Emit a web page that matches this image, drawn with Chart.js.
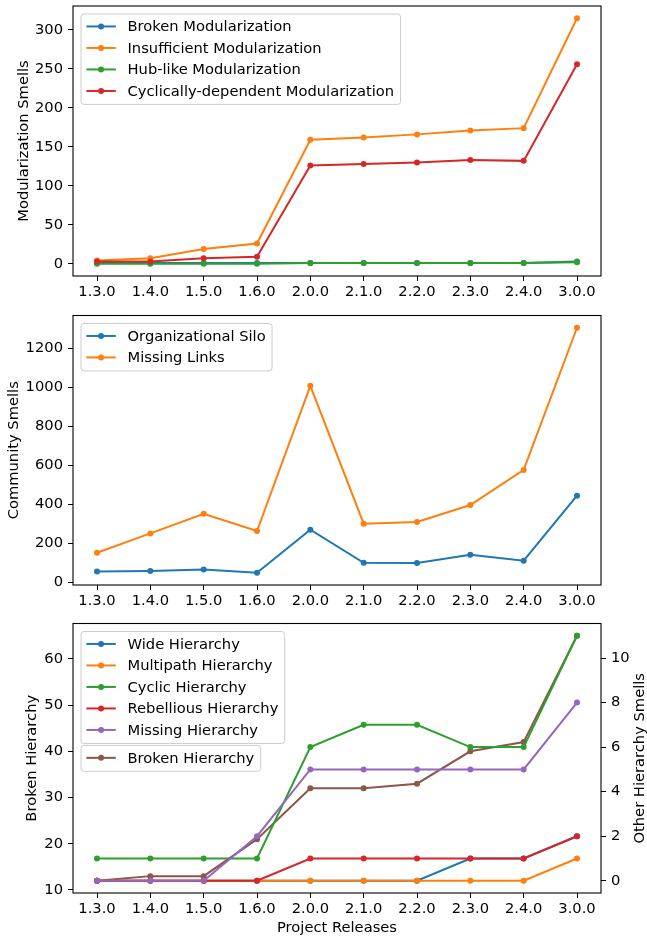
<!DOCTYPE html>
<html>
<head>
<meta charset="utf-8">
<script src="https://cdn.jsdelivr.net/npm/chart.js@4/dist/chart.umd.min.js"></script>
<style>
    html, body { margin: 0; padding: 0; background: #fff; }
    body { width: 647px; height: 938px; position: relative; overflow: hidden; }
    canvas { position: absolute; left: 0; }
</style>
</head>
<body>
<canvas id="modChart" width="647" height="305" style="top:0px"></canvas>
<canvas id="commChart" width="647" height="310" style="top:305px"></canvas>
<canvas id="hierChart" width="647" height="323" style="top:615px"></canvas>
<script>
// Data
const releases = ["1.3.0", "1.4.0", "1.5.0", "1.6.0", "2.0.0", "2.1.0", "2.2.0", "2.3.0", "2.4.0", "3.0.0"];

const brokenModularization       = [1, 1, 1, 1, 1, 1, 1, 1, 1, 3];
const insufficientModularization = [4, 7, 19, 26, 159, 162, 166, 171, 174, 315];
const hubLikeModularization      = [0, 0, 0, 0, 1, 1, 1, 1, 1, 2];
const cyclicModularization       = [3, 3, 7, 9, 126, 128, 130, 133, 132, 256];

const organizationalSilo = [55, 57, 65, 48, 269, 99, 98, 141, 110, 444];
const missingLinks       = [151, 250, 351, 262, 1008, 300, 309, 396, 576, 1306];

const brokenHierarchy     = [12, 13, 13, 21, 32, 32, 33, 40, 42, 65];
const wideHierarchy       = [0, 0, 0, 0, 0, 0, 0, 1, 1, 2];
const multipathHierarchy  = [0, 0, 0, 0, 0, 0, 0, 0, 0, 1];
const cyclicHierarchy     = [1, 1, 1, 1, 6, 7, 7, 6, 6, 11];
const rebelliousHierarchy = [0, 0, 0, 0, 1, 1, 1, 1, 1, 2];
const missingHierarchy    = [0, 0, 0, 2, 5, 5, 5, 5, 5, 8];

const modTicks    = [0, 50, 100, 150, 200, 250, 300];
const commTicks   = [0, 200, 400, 600, 800, 1000, 1200];
const brokenTicks = [10, 20, 30, 40, 50, 60];
const otherTicks  = [0, 2, 4, 6, 8, 10];

const C = {
    blue: "#1f77b4", orange: "#ff7f0e", green: "#2ca02c",
    red: "#d62728", purple: "#9467bd", brown: "#8c564b"
};

const FONT_PX = 14.7;
const FAMILY = '"DejaVu Sans", sans-serif';

Chart.defaults.color = "#000";
Chart.defaults.font.family = FAMILY;
Chart.defaults.font.size = FONT_PX;

// matplotlib-like auto limits: 5% margin around the data
function limits(...series){
    const all = series.flat();
    const lo = Math.min(...all), hi = Math.max(...all);
    const m = (hi - lo) * 0.05;
    return { min: lo - m, max: hi + m };
}

function line(label, values, color, order, yAxisID){
    return {
        label,
        data: values.map((v, i) => ({ x: i, y: v })),
        borderColor: color,
        backgroundColor: color,
        pointBackgroundColor: color,
        borderWidth: 2,
        pointRadius: 3,
        pointHoverRadius: 3,
        pointBorderWidth: 0,
        tension: 0,
        order,
        yAxisID: yAxisID || "y"
    };
}

function xAxis(height, title){
    return {
        type: "linear",
        min: -0.45,
        max: releases.length - 1 + 0.45,
        afterBuildTicks: s => { s.ticks = releases.map((_, i) => ({ value: i })); },
        afterFit: s => {
            s.height = height;
            s.paddingLeft = 0; s.paddingRight = 0;
        },
        ticks: {
            callback: v => releases[v],
            autoSkip: false, maxRotation: 0, padding: 2,
            font: { size: FONT_PX }
        },
        grid: { drawOnChartArea: false, drawTicks: true, tickLength: 5, tickColor: "#000", tickWidth: 1 },
        border: { display: false },
        title: title ? {
            display: true, text: title,
            font: { size: FONT_PX, lineHeight: 1 },
            padding: { top: 0, bottom: 2.8 }
        } : { display: false }
    };
}

function yAxis(lim, ticks, position, width, title, titlePad){
    return {
        type: "linear",
        position,
        min: lim.min,
        max: lim.max,
        afterBuildTicks: s => { s.ticks = ticks.map(v => ({ value: v })); },
        afterFit: s => {
            s.width = width;
            s.paddingTop = 0; s.paddingBottom = 0;
        },
        ticks: { padding: 5, font: { size: FONT_PX }, callback: v => String(v) },
        grid: { drawOnChartArea: false, drawTicks: true, tickLength: 5, tickColor: "#000", tickWidth: 1 },
        border: { display: false },
        title: {
            // right-hand title is drawn by the sideTitle plugin (reads bottom to top)
            display: position === "left", text: title,
            font: { size: FONT_PX, lineHeight: 1 },
            padding: { top: titlePad, bottom: 0 }
        }
    };
}

// axes frame (all four spines)
const frame = {
    id: "frame",
    afterDatasetsDraw(chart){
        const { ctx, chartArea: a } = chart;
        ctx.save();
        ctx.strokeStyle = "#000";
        ctx.lineWidth = 1.1;
        ctx.strokeRect(a.left, a.top, a.right - a.left, a.bottom - a.top);
        ctx.restore();
    }
};

// label of the right-hand axis, rotated like matplotlib's ylabel
const sideTitle = {
    id: "sideTitle",
    afterDraw(chart, args, opts){
        if(!opts.text) return;
        const { ctx, chartArea: a } = chart;
        ctx.save();
        ctx.font = `${FONT_PX}px ${FAMILY}`;
        ctx.fillStyle = "#000";
        ctx.textAlign = "center";
        ctx.textBaseline = "middle";
        ctx.translate(opts.x, (a.top + a.bottom) / 2);
        ctx.rotate(-Math.PI / 2);
        ctx.fillText(opts.text, 0, 0);
        ctx.restore();
    }
};

// matplotlib-like legend boxes, stacked in the upper left corner
const mplLegend = {
    id: "mplLegend",
    afterDraw(chart, args, opts){
        if(!opts.groups) return;
        const { ctx, chartArea: a } = chart;
        const em = FONT_PX;
        const rowH = 14.3;
        const gap = 7.2;
        ctx.save();
        ctx.font = `${em}px ${FAMILY}`;
        let top = a.top + 7.5;
        const left = a.left + 7.5;

        opts.groups.forEach(group => {
            const items = group.map(i => chart.data.datasets[i]);
            const textW = Math.max(...items.map(d => ctx.measureText(d.label).width));
            const w = em * 3.6 + textW;
            const h = 11.6 + items.length * rowH + (items.length - 1) * gap;

            ctx.beginPath();
            ctx.roundRect(left + 0.5, top + 0.5, w, h, 3);
            ctx.fillStyle = "rgba(255,255,255,0.8)";
            ctx.fill();
            ctx.strokeStyle = "#cccccc";
            ctx.lineWidth = 1;
            ctx.stroke();

            items.forEach((d, k) => {
                const y = top + 5.8 + rowH / 2 + k * (rowH + gap);
                ctx.strokeStyle = d.borderColor;
                ctx.lineWidth = 2;
                ctx.beginPath();
                ctx.moveTo(left + 0.4 * em, y);
                ctx.lineTo(left + 2.4 * em, y);
                ctx.stroke();
                ctx.fillStyle = d.borderColor;
                ctx.beginPath();
                ctx.arc(left + 1.4 * em, y, 3, 0, Math.PI * 2);
                ctx.fill();
                ctx.fillStyle = "#000";
                ctx.textBaseline = "middle";
                ctx.textAlign = "left";
                ctx.fillText(d.label, left + 3.2 * em, y + 1);
            });
            top += h + 2;
        });
        ctx.restore();
    }
};

const baseOptions = (padding, scales, groups, side) => ({
    responsive: false,
    animation: false,
    devicePixelRatio: 1,
    layout: { padding },
    events: [],
    plugins: {
        legend: { display: false },
        tooltip: { enabled: false },
        mplLegend: { groups },
        sideTitle: side || {}
    },
    scales
});

// Modularization smells
new Chart(document.getElementById("modChart"), {
    type: "line",
    data: {
        datasets: [
            line("Broken Modularization", brokenModularization, C.blue, 4),
            line("Insufficient Modularization", insufficientModularization, C.orange, 3),
            line("Hub-like Modularization", hubLikeModularization, C.green, 2),
            line("Cyclically-dependent Modularization", cyclicModularization, C.red, 1)
        ]
    },
    options: baseOptions(
        { top: 6, right: 46, left: 0, bottom: 0 },
        {
            x: xAxis(29),
            y: yAxis(limits(brokenModularization, insufficientModularization, hubLikeModularization, cyclicModularization),
                     modTicks, "left", 73, "Modularization Smells", 16.8)
        },
        [[0, 1, 2, 3]]
    ),
    plugins: [frame, mplLegend, sideTitle]
});

// Community smells
new Chart(document.getElementById("commChart"), {
    type: "line",
    data: {
        datasets: [
            line("Organizational Silo", organizationalSilo, C.blue, 2),
            line("Missing Links", missingLinks, C.orange, 1)
        ]
    },
    options: baseOptions(
        { top: 10.5, right: 46, left: 0, bottom: 0 },
        {
            x: xAxis(30),
            y: yAxis(limits(organizationalSilo, missingLinks), commTicks, "left", 73, "Community Smells", 7.3)
        },
        [[0, 1]]
    ),
    plugins: [frame, mplLegend, sideTitle]
});

// Hierarchy smells (two y axes)
new Chart(document.getElementById("hierChart"), {
    type: "line",
    data: {
        datasets: [
            line("Wide Hierarchy", wideHierarchy, C.blue, 5, "y2"),
            line("Multipath Hierarchy", multipathHierarchy, C.orange, 4, "y2"),
            line("Cyclic Hierarchy", cyclicHierarchy, C.green, 3, "y2"),
            line("Rebellious Hierarchy", rebelliousHierarchy, C.red, 2, "y2"),
            line("Missing Hierarchy", missingHierarchy, C.purple, 1, "y2"),
            line("Broken Hierarchy", brokenHierarchy, C.brown, 6, "y")
        ]
    },
    options: baseOptions(
        { top: 8.5, right: 0, left: 0, bottom: 0 },
        {
            x: xAxis(45, "Project Releases"),
            y: yAxis(limits(brokenHierarchy), brokenTicks, "left", 73, "Broken Hierarchy", 25.3),
            y2: yAxis(limits(wideHierarchy, multipathHierarchy, cyclicHierarchy, rebelliousHierarchy, missingHierarchy),
                      otherTicks, "right", 46, "Other Hierarchy Smells", 0)
        },
        [[0, 1, 2, 3, 4], [5]],
        { text: "Other Hierarchy Smells", x: 640 }
    ),
    plugins: [frame, mplLegend, sideTitle]
});
</script>
</body>
</html>
